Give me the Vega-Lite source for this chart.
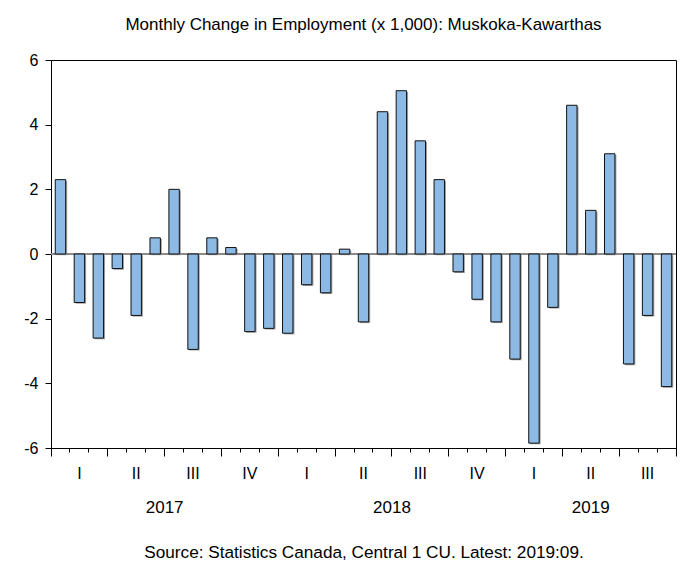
{
  "$schema": "https://vega.github.io/schema/vega-lite/v6.json",
  "width": 625,
  "height": 388,
  "autosize": "none",
  "padding": {"left": 51, "top": 60, "right": 15, "bottom": 133},
  "background": "white",
  "title": {
    "text": "Monthly Change in Employment (x 1,000): Muskoka-Kawarthas",
    "font": "Liberation Sans",
    "fontSize": 17,
    "fontWeight": "normal",
    "color": "black",
    "anchor": "middle",
    "frame": "group",
    "baseline": "alphabetic",
    "offset": 5
  },
  "data": {
    "values": [
      {"month": "2017-01", "change": 2.3},
      {"month": "2017-02", "change": -1.5},
      {"month": "2017-03", "change": -2.6},
      {"month": "2017-04", "change": -0.45},
      {"month": "2017-05", "change": -1.9},
      {"month": "2017-06", "change": 0.5},
      {"month": "2017-07", "change": 2.0},
      {"month": "2017-08", "change": -2.95},
      {"month": "2017-09", "change": 0.5},
      {"month": "2017-10", "change": 0.2},
      {"month": "2017-11", "change": -2.4},
      {"month": "2017-12", "change": -2.3},
      {"month": "2018-01", "change": -2.45},
      {"month": "2018-02", "change": -0.95},
      {"month": "2018-03", "change": -1.2},
      {"month": "2018-04", "change": 0.15},
      {"month": "2018-05", "change": -2.1},
      {"month": "2018-06", "change": 4.4},
      {"month": "2018-07", "change": 5.05},
      {"month": "2018-08", "change": 3.5},
      {"month": "2018-09", "change": 2.3},
      {"month": "2018-10", "change": -0.55},
      {"month": "2018-11", "change": -1.4},
      {"month": "2018-12", "change": -2.1},
      {"month": "2019-01", "change": -3.25},
      {"month": "2019-02", "change": -5.85},
      {"month": "2019-03", "change": -1.65},
      {"month": "2019-04", "change": 4.6},
      {"month": "2019-05", "change": 1.35},
      {"month": "2019-06", "change": 3.1},
      {"month": "2019-07", "change": -3.4},
      {"month": "2019-08", "change": -1.9},
      {"month": "2019-09", "change": -4.1}
    ]
  },
  "layer": [
    {
      "mark": {"type": "bar", "color": "#8f8f8f", "opacity": 0.85, "xOffset": 1.5, "yOffset": 1.2, "width": {"band": 0.55}},
      "encoding": {
        "x": {
          "field": "month", "type": "ordinal", "sort": null,
          "scale": {"paddingInner": 0, "paddingOuter": 0},
          "axis": {
            "orient": "bottom",
            "title": null,
            "labels": false,
            "bandPosition": 1,
            "tickExtra": true,
            "ticks": true,
            "tickColor": "black",
            "tickWidth": 1,
            "tickSize": {"condition": {"test": "!isString(datum.value) || test(/-(03|06|09|12)$/, datum.value)", "value": 8}, "value": 4},
            "domain": true,
            "domainColor": "black",
            "grid": false
          }
        },
        "y": {
          "field": "change", "type": "quantitative",
          "scale": {"domain": [-6, 6], "nice": false, "zero": false},
          "axis": {
            "orient": "left",
            "title": null,
            "values": [-6, -4, -2, 0, 2, 4, 6],
            "labelExpr": "datum.value + ''",
            "labelFontSize": 16,
            "labelColor": "black",
            "labelPadding": 7,
            "tickSize": 6,
            "tickColor": "black",
            "domainColor": "black",
            "grid": false
          }
        }
      }
    },
    {
      "mark": {"type": "rule", "color": "#8a8a8a", "strokeWidth": 1.5},
      "encoding": {
        "y": {"datum": 0, "type": "quantitative"}
      }
    },
    {
      "mark": {"type": "bar", "color": "#8dbae5", "stroke": "#111111", "strokeWidth": 1, "width": {"band": 0.55}},
      "encoding": {
        "x": {"field": "month", "type": "ordinal", "sort": null, "axis": null},
        "y": {"field": "change", "type": "quantitative"}
      }
    },
    {
      "mark": {"type": "point", "opacity": 0},
      "encoding": {
        "x": {
          "field": "month", "type": "ordinal", "sort": null,
          "axis": {
            "orient": "bottom",
            "title": null,
            "ticks": false,
            "tickSize": 0,
            "domain": false,
            "grid": false,
            "labelAngle": 0,
            "labelAlign": "center",
            "labelBaseline": "top",
            "labelFontSize": 16,
            "labelColor": "black",
            "labelPadding": 17,
            "labelExpr": "substring(datum.value,5)=='02' ? 'I' : substring(datum.value,5)=='05' ? 'II' : substring(datum.value,5)=='08' ? 'III' : substring(datum.value,5)=='11' ? 'IV' : ''"
          }
        }
      }
    },
    {
      "mark": {"type": "point", "opacity": 0},
      "encoding": {
        "x": {
          "field": "month", "type": "ordinal", "sort": null,
          "axis": {
            "orient": "bottom",
            "title": "Source: Statistics Canada, Central 1 CU. Latest: 2019:09.",
            "titleFont": "Liberation Sans",
            "titleFontSize": 17.2,
            "titleFontWeight": "normal",
            "titleColor": "black",
            "titlePadding": 28,
            "ticks": false,
            "tickSize": 0,
            "domain": false,
            "grid": false,
            "labelAngle": 0,
            "labelAlign": "center",
            "labelBaseline": "top",
            "labelFontSize": 17,
            "labelColor": "black",
            "labelPadding": 51,
            "labelOffset": {"condition": {"test": "datum.value == '2017-06' || datum.value == '2018-06'", "value": 9.5}, "value": 0},
            "labelExpr": "datum.value == '2017-06' ? '2017' : datum.value == '2018-06' ? '2018' : datum.value == '2019-05' ? '2019' : ''"
          }
        }
      }
    }
  ],
  "resolve": {"axis": {"x": "independent"}},
  "config": {
    "font": "Liberation Sans",
    "view": {"stroke": "black", "strokeWidth": 1},
    "axis": {"labelFont": "Liberation Sans"}
  }
}
